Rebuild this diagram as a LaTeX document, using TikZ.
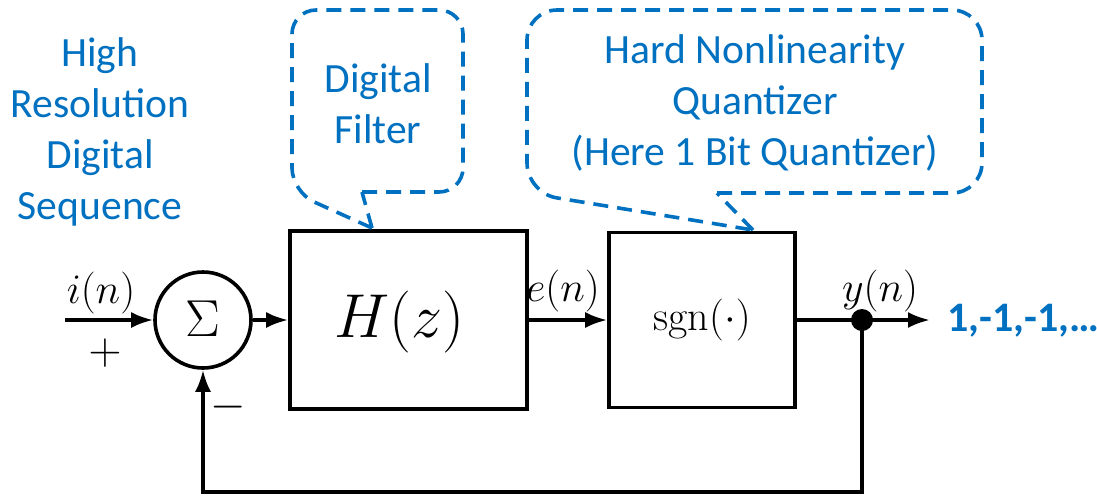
\RequirePackage{fix-cm}
\documentclass[tikz,border=0pt]{standalone}
\usepackage{fontspec}
\usepackage{graphicx}
\newfontfamily\calibri{Carlito}
\usetikzlibrary{arrows.meta}
\definecolor{callblue}{RGB}{0,112,192}
\begin{document}
\begin{tikzpicture}[x=0.5pt,y=-0.5pt,
  blk/.style={draw, line width=1.8pt, inner sep=0pt},
  arr/.style={line width=1.8pt, -{Latex[length=11pt,width=8pt]}},
  wire/.style={line width=1.8pt},
  callout/.style={draw=callblue, line width=1.8pt, dash pattern=on 7.5pt off 4.5pt},
  note/.style={text=callblue, font=\calibri\fontsize{20.8}{25.5}\selectfont, align=center},
  mlab/.style={font=\fontsize{21}{25}\selectfont, inner sep=0pt},
  sgnlab/.style={font=\fontsize{19}{23}\selectfont, inner sep=0pt}
]
\useasboundingbox (0,0) rectangle (1097,495);

% blocks
\node[blk, circle, minimum size=48pt] (sum) at (203,320) {};
\node[inner sep=0pt] (sumlab) at (202.5,319) {\fontsize{20}{24}\selectfont\scalebox{1.3}{$\Sigma$}};
\node[blk, minimum width=118.5pt, minimum height=89pt] (H) at (408.5,320) {};
\node[inner sep=0pt] (Hlab) at (399,322) {\fontsize{31}{36}\selectfont$H(z)$};
\node[blk, minimum width=93pt, minimum height=87.5pt] (sgn) at (702,320) {\fontsize{21}{25}\selectfont$\mathrm{sgn}(\cdot)$};
\node[circle, fill, minimum size=11pt, inner sep=0pt] (dot) at (862,320) {};

\coordinate (in) at (65,320);
\coordinate (out) at (930,320);
\coordinate (fb) at (862,492);

% connectors
\draw[arr] (in) -- (sum.west);
\draw[arr] (sum.east) -- (H.west);
\draw[arr] (H.east) -- (sgn.west);
\draw[wire] (sgn.east) -- (dot.center);
\draw[arr] (dot.center) -- (out);
\draw[arr] (dot.center) -- (fb) -| (sum.south);

% math labels
\node[mlab] (lin) at (101,293) {$i(n)$};
\node[mlab] (le) at (563,291) {$e(n)$};
\node[mlab] (ly) at (880,291) {$y(n)$};
\node[sgnlab] (plus) at (105,353) {\scalebox{1.2}{$+$}};
\node[sgnlab] (minus) at (228,407) {\scalebox{1.2}{$-$}};

% output sequence
\node[anchor=base west, inner sep=0pt, text=callblue, font=\calibri\bfseries\fontsize{21}{25}\selectfont] (seq) at (947,331) {1,-1,-1,\dots};

% left annotation
\node[note] (hr) at (100,132) {High\\Resolution\\Digital\\Sequence};

% callout: Digital Filter
\draw[callout, rounded corners=12pt] (362,192) -- (463,192) -- (463,10) -- (292,10) -- (292,192) -- (372,228);
\draw[callout] (372,228) -- (362,192);
\node[note] (df) at (378,104) {Digital\\Filter};

% callout: Hard Nonlinearity
\draw[callout, rounded corners=15pt] (717,193) -- (982,193) -- (982,10) -- (527,10) -- (527,193) -- (753,230);
\draw[callout] (753,230) -- (717,193);
\node[note] (hn) at (755,103) {Hard Nonlinearity\\Quantizer\\(Here 1 Bit Quantizer)};
\end{tikzpicture}
\end{document}
